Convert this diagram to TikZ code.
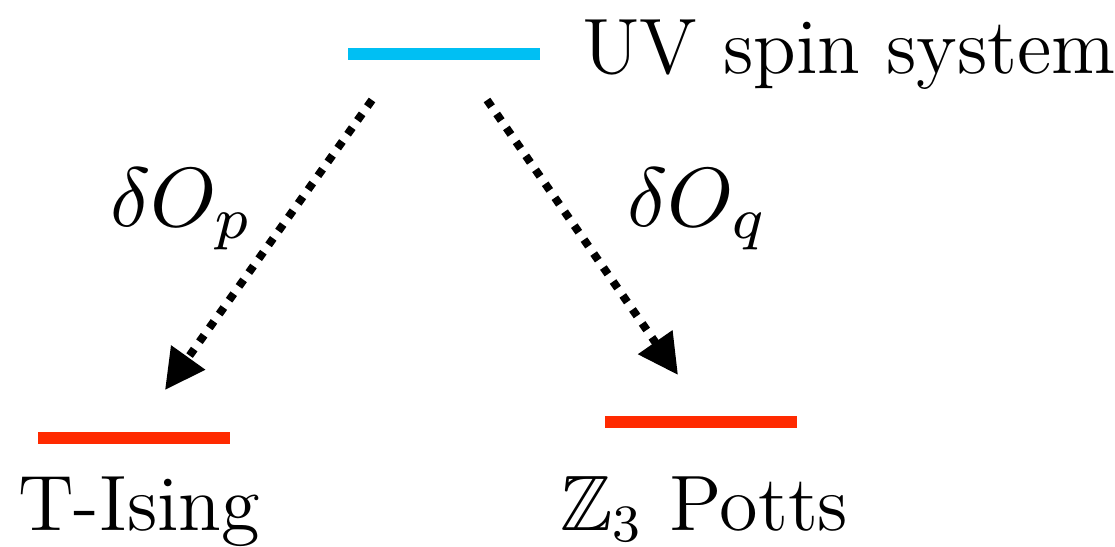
\documentclass[tikz,border=0pt]{standalone}
\usepackage{graphicx}
\usepackage{amssymb}
\usetikzlibrary{arrows.meta}
\definecolor{uvblue}{HTML}{00BFF3}
\definecolor{irred}{HTML}{FF2A00}
\newcommand{\bigtxt}[1]{\scalebox{6.55}{\fontsize{12}{14}\selectfont #1}}
\newcommand{\bigmath}[1]{\scalebox{8.4}{\fontsize{10}{12}\selectfont$#1$}}
\begin{document}
\begin{tikzpicture}[x=1pt,y=-1pt,
  bar/.style={rectangle,inner sep=0pt,minimum width=192pt,minimum height=12pt},
  lbl/.style={inner sep=0pt,anchor=base west},
  flow/.style={line width=8pt,dash pattern=on 8pt off 9pt,-{Triangle[length=40pt,width=40pt]}}]
\useasboundingbox (0,0) rectangle (1115,546);
\node[bar,fill=uvblue] (uv) at (444,53.5) {};
\node[bar,fill=irred] (ising) at (134,438) {};
\node[bar,fill=irred] (potts) at (701,422) {};
\node[lbl] (uvt) at (582,73) {\bigtxt{UV spin system}};
\node[lbl] (isingt) at (18,530) {\bigtxt{T-Ising}};
\node[lbl] (pottst) at (560,530) {\bigtxt{$\mathbb{Z}_3$ Potts}};
\node[lbl] (op) at (110,226) {\bigmath{\delta O_p}};
\node[lbl] (oq) at (627,226) {\bigmath{\delta O_q}};
\coordinate (s1) at (372,100);
\coordinate (e1) at (165,390);
\coordinate (s2) at (487,100);
\coordinate (e2) at (678,375);
\draw[flow] (s1) -- (e1);
\draw[flow] (s2) -- (e2);
\end{tikzpicture}
\end{document}
